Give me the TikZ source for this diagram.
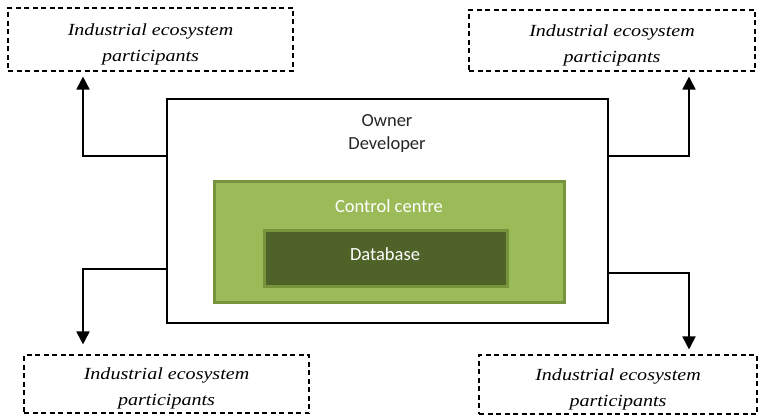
\documentclass[tikz,border=0pt]{standalone}
\usepackage{fontspec}
\setmainfont{Carlito}
\newfontfamily\partfont[FakeStretch=1.18]{Liberation Serif}
\usetikzlibrary{arrows.meta}
\definecolor{leafgreen}{HTML}{9BBB59}
\definecolor{olivegreen}{HTML}{77933C}
\definecolor{darkolive}{HTML}{4F6228}
\definecolor{inktext}{HTML}{262626}
% set a line a little lower without changing its box
\newcommand{\dropline}[1]{\raisebox{-4.5pt}[\height][\depth]{#1}}
\tikzset{
  party/.style={draw=black, line width=1.1pt, dash pattern=on 5pt off 3.5pt,
    align=center, text=black, inner sep=0pt,
    font=\partfont\itshape\fontsize{17}{26}\selectfont},
  flow/.style={line width=1.8pt, -{Triangle[width=13pt,length=13pt]}},
  link/.style={line width=1.3pt},
  labeltext/.style={font=\fontsize{18.5}{23}\selectfont, align=center}
}
\newcommand{\partytext}{\dropline{Industrial ecosystem}\\\dropline{participants}}
\begin{document}
\begin{tikzpicture}[x=1pt,y=-1pt]
  \useasboundingbox (0,0) rectangle (758,417);

  % owner / developer frame
  \draw[link, fill=white] (167,99) rectangle (608,323);
  \node[labeltext, text=inktext] (owner) at (387,133) {Owner\\Developer};

  % control centre and database
  \draw[draw=olivegreen, fill=leafgreen, line width=3pt] (214,182) rectangle (564,302);
  \node[labeltext, text=white] (ctrl) at (389,206) {Control centre};
  \draw[draw=olivegreen, fill=darkolive, line width=3pt] (264,230) rectangle (507,286);
  \node[labeltext, text=white] (db) at (385,254) {Database};

  % ecosystem participants
  \node[party, minimum width=285pt, minimum height=63pt] (tl) at (150.5,39.5) {\partytext};
  \node[party, minimum width=286pt, minimum height=61pt] (tr) at (612,40.5) {\partytext};
  \node[party, minimum width=285pt, minimum height=58pt] (bl) at (166.5,384) {\partytext};
  \node[party, minimum width=278pt, minimum height=59pt] (br) at (618,384.5) {\partytext};

  % connector anchors on the frame
  \coordinate (ltop) at (167,156);
  \coordinate (rtop) at (608,156);
  \coordinate (lbot) at (167,269);
  \coordinate (rbot) at (608,273);

  \draw[flow, shorten >=5pt] (ltop) -- (83,156) -- (tl.south -| 83,0);
  \draw[flow, shorten >=5pt] (rtop) -- (689,156) -- (tr.south -| 689,0);
  \draw[flow, shorten >=10pt] (lbot) -- (83,269) -- (bl.north -| 83,0);
  \draw[flow, shorten >=5pt] (rbot) -- (689,273) -- (br.north -| 689,0);
\end{tikzpicture}
\end{document}
